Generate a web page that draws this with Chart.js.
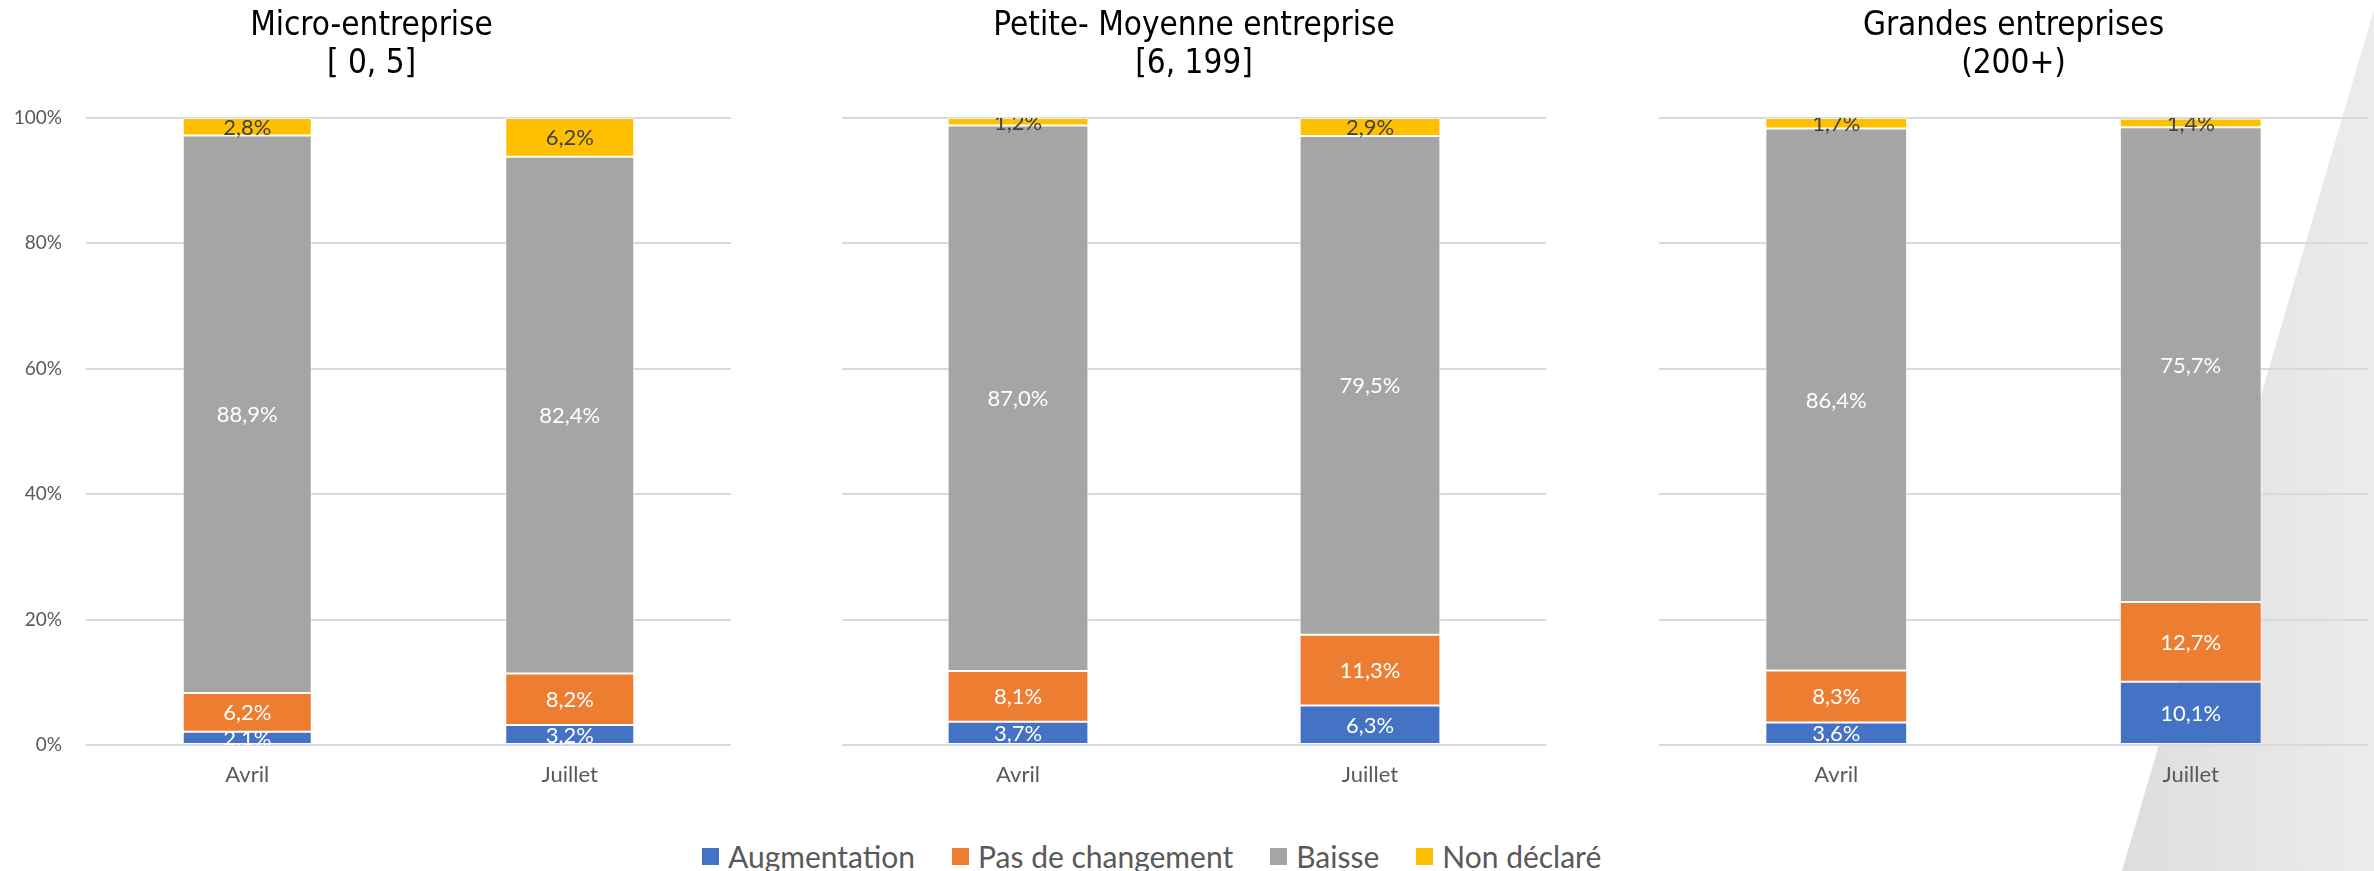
<!DOCTYPE html>
<html>
<head>
<meta charset="utf-8">
<script src="https://cdn.jsdelivr.net/npm/chart.js@4.4.0/dist/chart.umd.min.js"></script>
<style>
  body { margin: 0; width: 2374px; height: 871px; background: #fff; position: relative; overflow: hidden; font-family: Lato, sans-serif; }
  #tri { position: absolute; left: 0; top: 0; width: 2374px; height: 871px;
         background: linear-gradient(to right, #dcdcdc 2100px, #ececec 2374px);
         clip-path: polygon(2374px 9px, 2374px 871px, 2122px 871px); }
  canvas { position: absolute; top: 0; }
  #legend { position: absolute; left: 702px; top: 838px; display: flex; align-items: center; color: #595959; font-size: 30px; line-height: 36px; }
  #legend .item { display: flex; align-items: center; margin-right: 37px; }
  #legend .box { width: 17px; height: 17px; margin-right: 9px; }
</style>
</head>
<body>
<div id="tri"></div>
<canvas id="c1" width="770" height="800" style="left:0px"></canvas>
<canvas id="c2" width="792" height="800" style="left:800px"></canvas>
<canvas id="c3" width="724" height="800" style="left:1650px"></canvas>
<div id="legend"></div>
<script>
const categories = ['Avril', 'Juillet'];
const seriesNames = ['Augmentation', 'Pas de changement', 'Baisse', 'Non déclaré'];
const seriesColors = ['#4472C4', '#ED7D31', '#A5A5A5', '#FFC000'];
const labelColors = ['#ffffff', '#ffffff', '#ffffff', '#404040'];

// Micro-entreprise [0, 5]
const microAugmentation = [2.1, 3.2];
const microPasChangement = [6.2, 8.2];
const microBaisse = [88.9, 82.4];
const microNonDeclare = [2.8, 6.2];

// Petite- Moyenne entreprise [6, 199]
const pmeAugmentation = [3.7, 6.3];
const pmePasChangement = [8.1, 11.3];
const pmeBaisse = [87.0, 79.5];
const pmeNonDeclare = [1.2, 2.9];

// Grandes entreprises (200+)
const grandesAugmentation = [3.6, 10.1];
const grandesPasChangement = [8.3, 12.7];
const grandesBaisse = [86.4, 75.7];
const grandesNonDeclare = [1.7, 1.4];

const yTicks = [0, 20, 40, 60, 80, 100];

const fmt = v => v.toFixed(1).replace('.', ',') + '%';

// draws the value in the middle of each segment
const segmentLabels = {
  id: 'segmentLabels',
  afterDatasetsDraw(chart) {
    const ctx = chart.ctx;
    const area = chart.chartArea;
    ctx.save();
    ctx.beginPath();
    ctx.rect(area.left, area.top, area.right - area.left, area.bottom - area.top);
    ctx.clip();
    ctx.font = '22px Lato';
    ctx.textAlign = 'center';
    ctx.textBaseline = 'middle';
    chart.data.datasets.forEach((ds, i) => {
      chart.getDatasetMeta(i).data.forEach((bar, j) => {
        ctx.fillStyle = labelColors[i];
        ctx.fillText(fmt(ds.data[j]), bar.x, (bar.y + bar.base) / 2 + 1);
      });
    });
    ctx.restore();
  }
};

function makeChart(id, title, series, showY, pad) {
  new Chart(document.getElementById(id), {
    type: 'bar',
    data: {
      labels: categories,
      datasets: series.map((d, i) => ({
        label: seriesNames[i],
        data: d,
        backgroundColor: seriesColors[i],
        borderColor: 'rgba(255,255,255,0.6)',
        borderWidth: 1,
        borderSkipped: false,
        barPercentage: 0.4,
        categoryPercentage: 1
      }))
    },
    options: {
      responsive: false,
      animation: false,
      devicePixelRatio: 1,
      layout: { padding: { left: pad[0], right: pad[1], top: 0, bottom: 9 } },
      plugins: {
        legend: { display: false },
        tooltip: { enabled: false },
        title: {
          display: true,
          text: title,
          color: '#000000',
          font: { family: '"Liberation Sans Narrow", "DejaVu Sans Condensed", sans-serif', size: 33, weight: 'normal', lineHeight: 1.15 },
          padding: { top: 7, bottom: 35 }
        }
      },
      scales: {
        x: {
          stacked: true,
          afterFit: axis => { axis.height = 46; },
          grid: { display: false, drawTicks: false },
          border: { display: false },
          ticks: { color: '#595959', font: { family: 'Lato', size: 22 }, padding: 17, maxRotation: 0 }
        },
        y: {
          stacked: true,
          min: 0,
          max: 100,
          afterFit: axis => { axis.width = showY ? 74 : 0; },
          afterBuildTicks: axis => { axis.ticks = yTicks.map(v => ({ value: v })); },
          grid: { color: '#d9d9d9', lineWidth: 2, drawTicks: false },
          border: { display: false },
          ticks: {
            display: showY,
            color: '#595959',
            font: { family: 'Lato', size: 19 },
            padding: 24,
            callback: v => v + '%'
          }
        }
      }
    },
    plugins: [segmentLabels]
  });
}

makeChart('c1', ['Micro-entreprise', '[ 0, 5]'],
  [microAugmentation, microPasChangement, microBaisse, microNonDeclare], true, [12, 39]);
makeChart('c2', ['Petite- Moyenne entreprise', '[6, 199]'],
  [pmeAugmentation, pmePasChangement, pmeBaisse, pmeNonDeclare], false, [42, 46]);
makeChart('c3', ['Grandes entreprises', '(200+)'],
  [grandesAugmentation, grandesPasChangement, grandesBaisse, grandesNonDeclare], false, [9, 6]);

const legend = document.getElementById('legend');
seriesNames.forEach((name, i) => {
  const item = document.createElement('div');
  item.className = 'item';
  item.innerHTML = '<span class="box" style="background:' + seriesColors[i] + '"></span><span>' + name + '</span>';
  legend.appendChild(item);
});
</script>
</body>
</html>
